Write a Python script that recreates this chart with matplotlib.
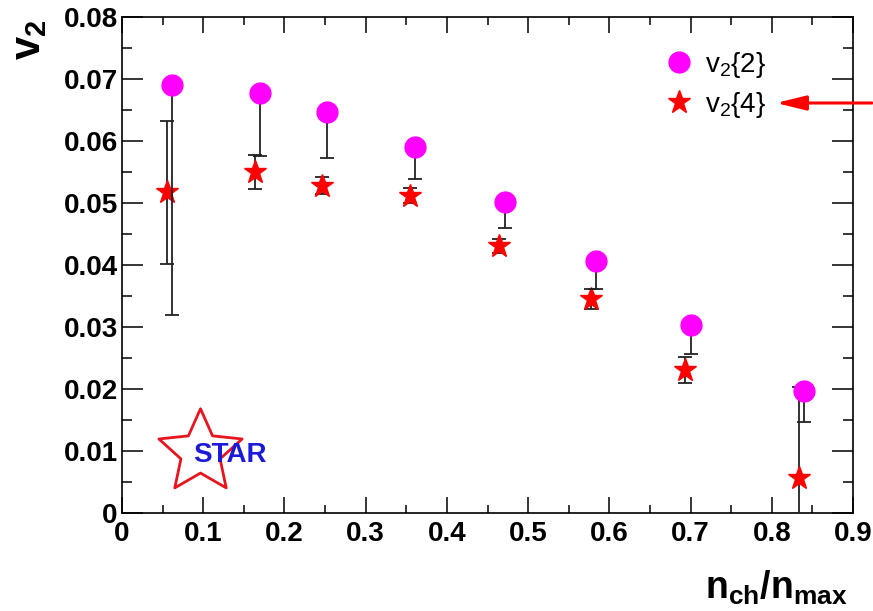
import matplotlib
matplotlib.use("Agg")
import matplotlib.pyplot as plt
from matplotlib.lines import Line2D
from matplotlib.path import Path

plt.rcParams['font.family'] = ['Liberation Sans', 'DejaVu Sans']
plt.rcParams['mathtext.default'] = 'regular'

# v2{2}: values with lower-side errors only
x_v22 = [0.061, 0.170, 0.2525, 0.361, 0.471, 0.584, 0.700, 0.8395]
v22 = [0.0690, 0.0677, 0.0647, 0.0590, 0.0502, 0.0406, 0.0303, 0.0197]
v22_err_lo = [0.0371, 0.0101, 0.0075, 0.0051, 0.0043, 0.0045, 0.0047, 0.0051]

# v2{4}: symmetric errors
x_v24 = [0.0558, 0.1634, 0.2463, 0.355, 0.4647, 0.578, 0.6933, 0.8334]
v24 = [0.0517, 0.0550, 0.0528, 0.0512, 0.0431, 0.0345, 0.0231, 0.0056]
v24_err = [0.0115, 0.0028, 0.0014, 0.0012, 0.0011, 0.0016, 0.0021, 0.0147]

fig = plt.figure(figsize=(8.73, 6.11), dpi=100)
ax = fig.add_axes([122/873, 1-513/611, 731/873, 496/611])

ax.errorbar(x_v24, v24, yerr=v24_err, fmt='*', color='red', ms=17, mec='red',
            ecolor='#222222', elinewidth=1.3, capsize=5, capthick=1.3, zorder=3)
ax.errorbar(x_v22, v22, yerr=[v22_err_lo, [0]*len(v22)], fmt='o', color='#ff00ff',
            ms=15, mec='#ff00ff', ecolor='#222222', elinewidth=1.3, capsize=5,
            capthick=1.3, zorder=4)

ax.set_xlim(0, 0.9)
ax.set_ylim(0, 0.08)
ax.set_xticks([0, 0.1, 0.2, 0.3, 0.4, 0.5, 0.6, 0.7, 0.8, 0.9])
ax.set_xticklabels(['0', '0.1', '0.2', '0.3', '0.4', '0.5', '0.6', '0.7', '0.8', '0.9'])
ax.set_xticks([0.05, 0.15, 0.25, 0.35, 0.45, 0.55, 0.65, 0.75, 0.85], minor=True)
ax.set_yticks([0, 0.01, 0.02, 0.03, 0.04, 0.05, 0.06, 0.07, 0.08])
ax.set_yticklabels(['0', '0.01', '0.02', '0.03', '0.04', '0.05', '0.06', '0.07', '0.08'])
ax.set_yticks([0.005, 0.015, 0.025, 0.035, 0.045, 0.055, 0.065, 0.075], minor=True)

ax.tick_params(which='both', direction='in', top=True, right=True, width=1.1)
ax.tick_params(axis='x', which='major', length=11.5, pad=6)
ax.tick_params(axis='x', which='minor', length=5.8)
ax.tick_params(axis='y', which='major', length=15, pad=3)
ax.tick_params(axis='y', which='minor', length=7.5)
for lab in ax.get_xticklabels() + ax.get_yticklabels():
    lab.set_fontsize(20)
    lab.set_fontweight('bold')
for s in ax.spines.values():
    s.set_linewidth(1.2)

fig.text(29/873, 1-19/611, 'v$_2$', rotation=90, ha='center', va='top',
         fontsize=30, fontweight='bold')
fig.text(848/873, 1-599/611, 'n$_{ch}$/n$_{max}$', ha='right', va='baseline',
         fontsize=27, fontweight='bold')

handles = [Line2D([], [], marker='o', ls='none', color='#ff00ff', ms=15),
           Line2D([], [], marker='*', ls='none', color='red', ms=17)]
ax.legend(handles, ['v$_2${2}', 'v$_2${4}'], loc='upper left', frameon=False,
          bbox_to_anchor=(665/873, 1-50/611), bbox_transform=fig.transFigure,
          fontsize=20, handlelength=1.0, handletextpad=0.45, labelspacing=0.36,
          borderpad=0, borderaxespad=0)

ax.annotate('', xy=(776/873, 1-103/611), xytext=(872/873, 1-103/611),
            xycoords='figure fraction', textcoords='figure fraction',
            arrowprops=dict(arrowstyle='-|>,head_length=0.9,head_width=0.22',
                            color='red', lw=2.2, mutation_scale=20, shrinkA=0, shrinkB=0))

# STAR logo
logo_star = Path.unit_regular_star(5, 0.47)
ax.plot([0.096], [0.0098], marker=logo_star, ms=63, mfc='none', mec='#e8141e', mew=2.0,
        clip_on=False, zorder=2)
ax.text(0.133, 0.0094, 'STAR', color='#1a1ad8', fontsize=20, fontweight='bold',
        ha='center', va='center', zorder=3)

fig.savefig('out.png', dpi=100)
